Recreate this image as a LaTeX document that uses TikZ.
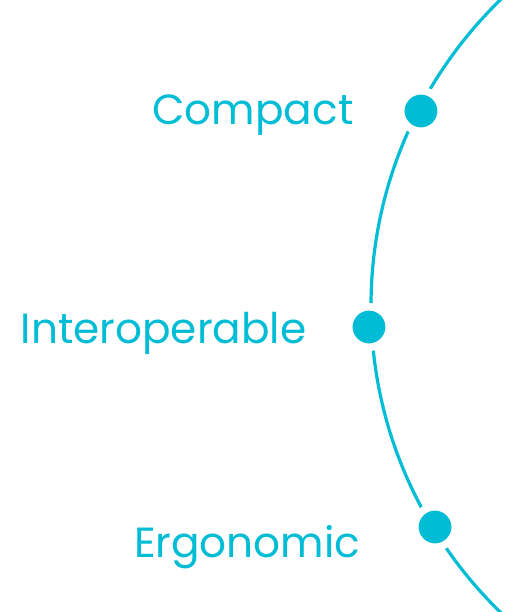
\documentclass[tikz,border=0pt]{standalone}
\usepackage{fontspec}
\setmainfont{Poppins}
\definecolor{accent}{RGB}{0,188,212}

\begin{document}
\begin{tikzpicture}[x=0.025cm, y=-0.025cm, line width=0.08cm]
                \tikzset{point/.style={circle, fill=accent, draw=white, line width=0.1875cm, inner sep=0pt, minimum size=1.0125cm}};
                \tikzset{label/.style={anchor=base east, text=accent, inner sep=0pt, font=\fontsize{30}{36}\selectfont}};
                \useasboundingbox (0, 0) rectangle (506, 612);
                \begin{scope}
                \clip (0, 0) rectangle (506, 612);
                \draw[accent] (798, 306) circle [radius=427];
                \end{scope}
                \node[point] (Cpt) at (421, 111) {};
                \node[point] (Ipt) at (369, 327) {};
                \node[point] (Ept) at (435, 527) {};
                \node[label] (Clabel) at (355, 124) {Compact};
                \node[label] (Ilabel) at (308, 343) {Interoperable};
                \node[label] (Elabel) at (362, 557) {Ergonomic};
\end{tikzpicture}
\end{document}
